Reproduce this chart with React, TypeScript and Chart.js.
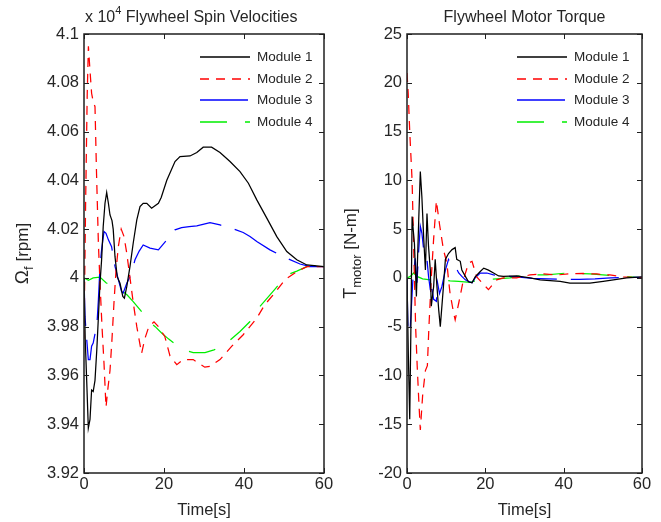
import React, { useEffect, useRef } from "react";
import { Chart, registerables } from "chart.js";

Chart.register(...registerables);

const FONT = '"Liberation Sans", Arial, Helvetica, sans-serif';
const INK = "#262626";

const moduleNames = ["Module 1", "Module 2", "Module 3", "Module 4"];

// Axis ranges
const timeMin = 0;
const timeMax = 60;
const timeStep = 20;
const spinMin = 3.92;
const spinMax = 4.1;
const spinStep = 0.02;
const torqueMin = -20;
const torqueMax = 25;
const torqueStep = 5;

// ---- Flywheel spin velocities (x 10^4 rpm) ----
const spinT1 = [0, 0.3, 0.67, 1.08, 1.5, 1.9, 2.3, 2.75, 3.2, 3.6, 4.0, 4.4, 4.8, 5.25, 5.67, 6.1, 6.5, 7.0, 7.3, 7.75, 8.3, 9.0, 9.7, 10.1, 10.7, 11.5, 12.3, 13.2, 14.0, 14.8, 15.7, 16.9, 18.6, 19.3, 20.7, 22.75, 24.0, 26.5, 28.2, 29.8, 31.9, 34.0, 36.5, 39.0, 41.1, 43.2, 45.7, 48.2, 50.7, 53.2, 55.7, 60];
const spinV1 = [4.0, 3.975, 3.958, 3.9384, 3.942, 3.954, 3.9534, 3.958, 3.9705, 3.984, 3.9978, 4.0074, 4.021, 4.0306, 4.035, 4.0306, 4.0258, 4.0235, 4.02, 4.0087, 4.0005, 3.9978, 3.9924, 3.9917, 3.9965, 4.0047, 4.0142, 4.0238, 4.0292, 4.0306, 4.0306, 4.0286, 4.0306, 4.033, 4.04, 4.0477, 4.0497, 4.05, 4.0514, 4.0536, 4.0536, 4.0514, 4.0477, 4.0436, 4.0388, 4.032, 4.0245, 4.0169, 4.0108, 4.0074, 4.0053, 4.0046];

const spinT2 = [0, 0.4, 0.8, 1.1, 1.5, 1.9, 2.3, 2.75, 3.1, 3.6, 4.0, 4.5, 5.0, 5.5, 6.0, 6.5, 7.0, 7.5, 8.0, 8.6, 9.3, 10.0, 10.7, 11.5, 12.3, 13.2, 14.4, 15.2, 16.2, 17.5, 18.6, 20.2, 21.5, 23.2, 24.8, 27.3, 30.2, 31.5, 34, 36.9, 39.8, 43.2, 45.2, 47.7, 50.2, 53.2, 55.7, 60];
const spinV2 = [3.975, 4.03, 4.075, 4.095, 4.085, 4.0757, 4.0723, 4.0702, 4.045, 4.014, 3.998, 3.98, 3.965, 3.947, 3.955, 3.962, 3.975, 3.99, 4.003, 4.013, 4.02, 4.017, 4.01, 4.0, 3.99, 3.98, 3.969, 3.975, 3.98, 3.982, 3.98, 3.976, 3.968, 3.9644, 3.9665, 3.9665, 3.9634, 3.9637, 3.9665, 3.9719, 3.9767, 3.9835, 3.989, 3.9938, 3.9992, 4.0026, 4.0046, 4.0046];

const spinT3 = [0, 0.25, 0.67, 1.08, 1.5, 1.9, 2.3, 2.75, 3.2, 3.6, 4.0, 4.4, 5.0, 5.5, 6.1, 6.9, 7.3, 7.75, 8.6, 9.4, 9.8, 10.7, 11.5, 12.3, 12.75, 13.8, 14.8, 16.5, 18.6, 20.7, 22.75, 24.4, 26.3, 28.2, 31.5, 34, 36.9, 39.8, 41.5, 43.2, 46.5, 49.8, 54, 56.5, 60];
const spinV3 = [4.0, 3.984, 3.975, 3.9665, 3.9665, 3.972, 3.9733, 3.977, 3.98, 3.991, 4.0047, 4.0115, 4.019, 4.0183, 4.0156, 4.0128, 4.0087, 4.0047, 3.9992, 3.9944, 3.9938, 3.9978, 4.0005, 4.0047, 4.0074, 4.011, 4.0135, 4.0122, 4.0115, 4.0156, 4.0197, 4.0206, 4.021, 4.0213, 4.0227, 4.0217, 4.0204, 4.0186, 4.017, 4.0149, 4.0115, 4.0087, 4.0057, 4.0046, 4.0046];

const spinT4 = [0, 1.1, 2.3, 4.0, 5.5, 7.75, 9.4, 10.8, 12.3, 14.4, 16.1, 17.8, 19.4, 21.1, 24.4, 27.3, 30.25, 32.5, 34.4, 36.1, 39, 41.5, 43.6, 46.5, 47.75, 50.7, 53.2, 55.7, 57.3, 60];
const spinV4 = [4.0, 3.999, 4.0, 4.0003, 3.998, 3.9962, 3.9948, 3.993, 3.9903, 3.9862, 3.9821, 3.98, 3.9774, 3.975, 3.9708, 3.9694, 3.9694, 3.9705, 3.9719, 3.9739, 3.978, 3.9821, 3.9876, 3.993, 3.9954, 4.0012, 4.0028, 4.0046, 4.0049, 4.0046];

// ---- Flywheel motor torque (N-m) ----
const torqueT1 = [0, 0.35, 0.7, 1.0, 1.3, 1.9, 2.4, 3.0, 3.4, 3.8, 4.25, 4.7, 5.1, 5.5, 5.95, 6.2, 6.8, 7.2, 7.65, 8.1, 8.5, 9.3, 9.8, 10.6, 11.5, 12.3, 12.7, 13.6, 14.0, 14.9, 15.7, 16.6, 17.4, 18.7, 19.6, 20.8, 22.1, 23.4, 24.6, 28, 31.4, 34, 39.1, 41.6, 46.7, 50.1, 52.7, 56.1, 60];
const torqueV1 = [0, -8, -14.5, -5, 6.3, 3.5, -1.9, 6.0, 10.9, 8.3, 4.2, 0.8, 6.6, 3.2, 0.8, -2.9, -0.9, 1.9, -0.9, -3.3, -5.0, -0.9, 1.9, 2.5, 2.9, 3.1, 1.9, 1.7, 0.8, 0.15, -0.4, -0.5, 0.1, 0.65, 1.0, 0.8, 0.5, 0.2, 0.15, 0.2, 0, -0.2, -0.35, -0.53, -0.53, -0.35, -0.2, 0, 0.1];

const torqueT2 = [0, 0.3, 0.7, 1.0, 1.3, 1.6, 1.9, 2.2, 2.6, 3.0, 3.4, 4.0, 4.7, 5.2, 5.6, 6.2, 6.8, 7.5, 8.3, 9.3, 10.2, 10.6, 11.0, 11.9, 12.3, 13.2, 14.4, 15.7, 16.6, 17.8, 19.6, 20.8, 22.9, 24.6, 28, 31.4, 34.8, 38.3, 41.6, 45, 48.4, 51.8, 55.2, 58.6, 60];
const torqueV2 = [21, 19, 15, 12.5, 10, 5, 0, -5, -9, -12.5, -15.6, -12, -9.5, -9, -5, 0, 4, 7.9, 5.5, 2.9, 1.5, -0.2, -1.6, -3.6, -4.3, -2.6, -0.2, 1.5, 1.7, 0.1, -0.7, -1.2, -0.2, 0, 0, 0.3, 0.4, 0.3, 0.42, 0.45, 0.4, 0.3, 0.1, 0.02, 0];

const torqueT3 = [0, 0.25, 0.85, 1.5, 2.1, 2.55, 3.0, 3.4, 3.8, 4.25, 4.7, 5.1, 5.5, 5.95, 6.4, 6.8, 7.5, 7.8, 8.3, 8.9, 9.8, 10.6, 11.5, 12.3, 13.2, 14, 14.9, 15.7, 16.6, 17.4, 18.7, 20.4, 22.1, 23.8, 28, 32, 36, 40, 44, 48, 52, 56, 60];
const torqueV3 = [0, -5.7, -5.0, -0.2, 2.0, -0.5, 2.9, 5.3, 4.6, 2.9, 2.2, 1.9, 0.15, -1.2, -1.2, -2.2, -2.4, -0.5, -1.6, -0.9, 0.8, 1.9, 1.2, 1.2, 0.5, 0.15, -0.2, -0.35, -0.5, 0, 0.5, 0.5, 0.3, 0.2, 0.1, -0.05, -0.1, -0.15, -0.15, -0.1, 0, 0.05, 0.05];

const torqueT4 = [0, 0.85, 1.7, 2.55, 4, 5.95, 8.5, 11, 13.2, 16.1, 18.3, 20.5, 22.9, 26.3, 29.7, 35.7, 40.8, 46.7, 51.8, 57.8, 60];
const torqueV4 = [0, 0.15, 0.5, 0.15, -0.1, -0.2, -0.2, -0.3, -0.35, -0.45, -0.2, -0.15, -0.1, 0, 0.3, 0.3, 0.5, 0.4, 0.25, 0.08, 0];

// Styles
const lineColors = ["#000000", "#ff0000", "#0000ff", "#00ee00"];
const lineDashes: number[][] = [[], [9, 7], [48, 14], [27, 18]];

type Part = { text: string; size: number; dy?: number };

function partsWidth(ctx: CanvasRenderingContext2D, parts: Part[]) {
  let w = 0;
  for (const p of parts) {
    ctx.font = `${p.size}px ${FONT}`;
    w += ctx.measureText(p.text).width;
  }
  return w;
}

function drawParts(ctx: CanvasRenderingContext2D, parts: Part[], x: number, y: number, center: boolean) {
  let cx = center ? x - partsWidth(ctx, parts) / 2 : x;
  for (const p of parts) {
    ctx.font = `${p.size}px ${FONT}`;
    ctx.fillText(p.text, cx, y + (p.dy || 0));
    cx += ctx.measureText(p.text).width;
  }
}

type Decor = {
  title: Part[];
  titleCenter: boolean;
  titleDx: number;
  ylabel: Part[];
  ylabelX: number;
  xlabel: string;
  legendOffsets: number[]; // [lineStart, lineEnd, textStart] from chartArea.right
};

function makeDecor(d: Decor) {
  return {
    id: "decor",
    afterDraw(chart: any) {
      const { ctx, chartArea: a, scales } = chart;
      const xs = scales.x;
      const ys = scales.y;
      ctx.save();
      // box
      ctx.strokeStyle = "#1f1f1f";
      ctx.lineWidth = 1.5;
      ctx.setLineDash([]);
      ctx.strokeRect(a.left, a.top, a.right - a.left, a.bottom - a.top);
      // inward ticks
      ctx.lineWidth = 1;
      ctx.beginPath();
      for (const t of xs.ticks) {
        const px = Math.round(xs.getPixelForValue(t.value)) + 0.5;
        ctx.moveTo(px, a.bottom);
        ctx.lineTo(px, a.bottom - 5);
        ctx.moveTo(px, a.top);
        ctx.lineTo(px, a.top + 5);
      }
      for (const t of ys.ticks) {
        const py = Math.round(ys.getPixelForValue(t.value)) + 0.5;
        ctx.moveTo(a.left, py);
        ctx.lineTo(a.left + 5, py);
        ctx.moveTo(a.right, py);
        ctx.lineTo(a.right - 5, py);
      }
      ctx.stroke();

      // legend
      const rows = [23, 44.5, 66, 87.5];
      chart.data.datasets.forEach((ds: any, i: number) => {
        const y = Math.round(a.top + rows[i]);
        ctx.strokeStyle = lineColors[i];
        ctx.lineWidth = 1.4;
        ctx.setLineDash(lineDashes[i]);
        ctx.beginPath();
        ctx.moveTo(a.right - d.legendOffsets[0], y);
        ctx.lineTo(a.right - d.legendOffsets[1], y);
        ctx.stroke();
        ctx.setLineDash([]);
        ctx.fillStyle = INK;
        ctx.font = `13.5px ${FONT}`;
        ctx.textBaseline = "middle";
        ctx.textAlign = "left";
        ctx.fillText(ds.label, a.right - d.legendOffsets[2], y);
      });

      // texts
      ctx.fillStyle = INK;
      ctx.textAlign = "left";
      ctx.textBaseline = "alphabetic";
      const cxMid = (a.left + a.right) / 2;
      if (d.titleCenter) drawParts(ctx, d.title, cxMid + d.titleDx, 22, true);
      else drawParts(ctx, d.title, a.left + d.titleDx, 22, false);

      ctx.font = `16.5px ${FONT}`;
      ctx.textAlign = "center";
      ctx.fillText(d.xlabel, cxMid, 515);
      ctx.textAlign = "left";

      ctx.save();
      ctx.translate(d.ylabelX, (a.top + a.bottom) / 2);
      ctx.rotate(-Math.PI / 2);
      ctx.textBaseline = "middle";
      drawParts(ctx, d.ylabel, 0, 0, true);
      ctx.restore();

      ctx.restore();
    },
  };
}

function zip(t: number[], v: number[]) {
  return t.map((x, i) => ({ x, y: v[i] }));
}

function fmt(v: number) {
  return String(Math.round(v * 100) / 100);
}

function buildConfig(
  series: { t: number[]; v: number[] }[],
  yMin: number,
  yMax: number,
  yStep: number,
  yWidth: number,
  rightPad: number,
  decor: Decor
): any {
  return {
    type: "line",
    data: {
      datasets: series.map((s, i) => ({
        label: moduleNames[i],
        data: zip(s.t, s.v),
        borderColor: lineColors[i],
        borderDash: lineDashes[i],
        borderWidth: 1.25,
        pointRadius: 0,
        tension: 0,
        fill: false,
      })),
    },
    options: {
      responsive: false,
      animation: false,
      devicePixelRatio: 1,
      layout: { padding: { left: 0, top: 34, right: rightPad, bottom: 0 } },
      plugins: { legend: { display: false }, tooltip: { enabled: false }, title: { display: false } },
      scales: {
        x: {
          type: "linear",
          min: timeMin,
          max: timeMax,
          grid: { display: false, drawTicks: false },
          border: { display: false },
          ticks: { stepSize: timeStep, padding: 2, color: INK, font: { family: FONT, size: 16.5 }, maxRotation: 0 },
          afterFit: (s: any) => {
            s.height = 49;
          },
        },
        y: {
          type: "linear",
          min: yMin,
          max: yMax,
          grid: { display: false, drawTicks: false },
          border: { display: false },
          ticks: { stepSize: yStep, padding: 5, color: INK, font: { family: FONT, size: 16.5 }, callback: (v: number) => fmt(v) },
          afterFit: (s: any) => {
            s.width = yWidth;
          },
        },
      },
    },
    plugins: [makeDecor(decor)],
  };
}

export default function App() {
  const leftRef = useRef<HTMLCanvasElement>(null);
  const rightRef = useRef<HTMLCanvasElement>(null);

  useEffect(() => {
    const left = new Chart(
      leftRef.current as HTMLCanvasElement,
      buildConfig(
        [
          { t: spinT1, v: spinV1 },
          { t: spinT2, v: spinV2 },
          { t: spinT3, v: spinV3 },
          { t: spinT4, v: spinV4 },
        ],
        spinMin,
        spinMax,
        spinStep,
        84,
        16,
        {
          title: [
            { text: "x 10", size: 16 },
            { text: "4", size: 11, dy: -8 },
            { text: " Flywheel Spin Velocities", size: 16 },
          ],
          titleCenter: false,
          titleDx: 1,
          ylabel: [
            { text: "Ω", size: 19 },
            { text: "f", size: 13, dy: 6 },
            { text: " [rpm]", size: 17 },
          ],
          ylabelX: 23,
          xlabel: "Time[s]",
          legendOffsets: [124, 74, 67],
        }
      )
    );
    const right = new Chart(
      rightRef.current as HTMLCanvasElement,
      buildConfig(
        [
          { t: torqueT1, v: torqueV1 },
          { t: torqueT2, v: torqueV2 },
          { t: torqueT3, v: torqueV3 },
          { t: torqueT4, v: torqueV4 },
        ],
        torqueMin,
        torqueMax,
        torqueStep,
        67,
        19,
        {
          title: [{ text: "Flywheel Motor Torque", size: 16 }],
          titleCenter: true,
          titleDx: 0,
          ylabel: [
            { text: "T", size: 18 },
            { text: "motor", size: 13, dy: 6 },
            { text: " [N-m]", size: 17 },
          ],
          ylabelX: 11,
          xlabel: "Time[s]",
          legendOffsets: [125, 75, 68],
        }
      )
    );
    return () => {
      left.destroy();
      right.destroy();
    };
  }, []);

  return (
    <div style={{ position: "fixed", left: 0, top: 0, width: 661, height: 522, background: "#ffffff" }}>
      <canvas ref={leftRef} width={340} height={522} style={{ position: "absolute", left: 0, top: 0 }} />
      <canvas ref={rightRef} width={321} height={522} style={{ position: "absolute", left: 340, top: 0 }} />
    </div>
  );
}
